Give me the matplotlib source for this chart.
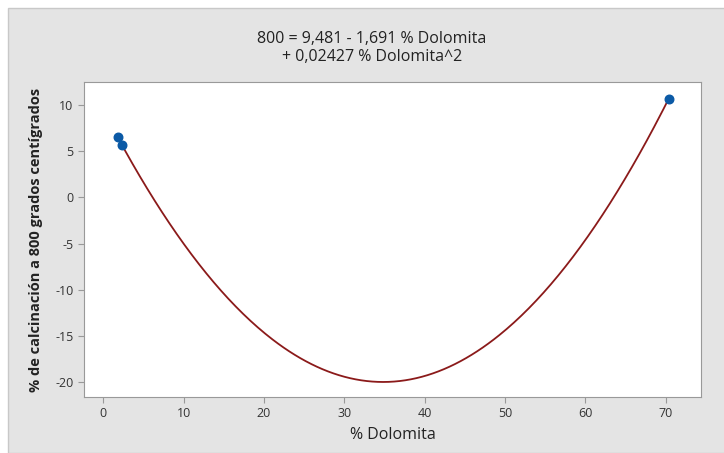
import numpy as np
import matplotlib.pyplot as plt
from matplotlib.patches import Rectangle

# observed points
dolomita = [1.8, 2.3, 70.4]
calcinacion = [6.6, 5.7, 10.7]

# fitted quadratic (from the title)
b0, b1, b2 = 9.481, -1.691, 0.02427

xticks = [0, 10, 20, 30, 40, 50, 60, 70]
yticks = [-20, -15, -10, -5, 0, 5, 10]

plt.rcParams['font.family'] = ['Open Sans', 'DejaVu Sans']
plt.rcParams['axes.unicode_minus'] = False

fig = plt.figure(figsize=(7.24, 4.53), dpi=100)
fig.patch.set_facecolor('white')

# gray Minitab-like panel
panel = Rectangle((8 / 724, 0), 1, 1 - 8 / 453, transform=fig.transFigure,
                  facecolor='#e4e4e4', edgecolor='#c8c8c8', linewidth=1, zorder=-5)
fig.patches.append(panel)

ax = fig.add_axes([84 / 724, 1 - 397 / 453, (701 - 84) / 724, (397 - 82) / 453])
ax.set_zorder(2)
ax.set_facecolor('white')

xs = np.linspace(min(dolomita), max(dolomita), 300)
ax.plot(xs, b0 + b1 * xs + b2 * xs ** 2, color='#8b1a1a', linewidth=1.3, zorder=2)
ax.scatter(dolomita, calcinacion, s=38, color='#0b5aa6', zorder=3)

ax.set_xlim(-2.4, 74.4)
ax.set_ylim(-21.6, 12.5)
ax.set_xticks(xticks)
ax.set_yticks(yticks)
ax.tick_params(labelsize=9, colors='#333333', length=4, color='#999999')
for s in ax.spines.values():
    s.set_color('#999999')

ax.set_xlabel('% Dolomita', fontsize=11.5, color='#222222', labelpad=5)
ax.set_ylabel('% de calcinación a 800 grados centígrados', fontsize=10.5,
              fontweight='bold', color='#222222', labelpad=9)

fig.text(372 / 724, 1 - 48 / 453,
         '800 = 9,481 - 1,691 % Dolomita\n+ 0,02427 % Dolomita^2',
         ha='center', va='center', fontsize=11.5, color='#222222', linespacing=1.2)

fig.savefig('out.png', dpi=100)
